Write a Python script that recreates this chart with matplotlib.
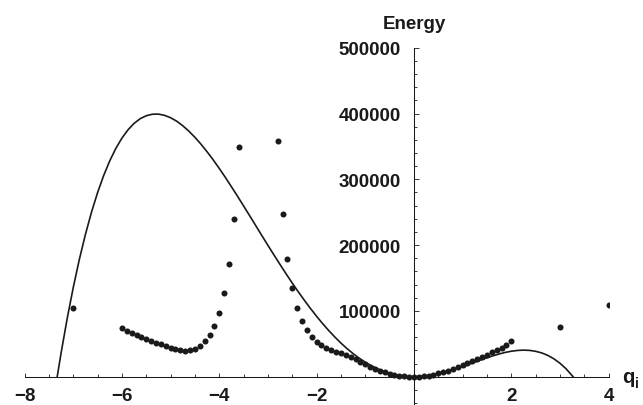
#!/usr/bin/env python3
"""Energy vs q_i: smooth energy curve with sampled points."""

import matplotlib

matplotlib.use("Agg", force=True)
import matplotlib.pyplot as plt
from matplotlib.ticker import FixedLocator

# solid curve (clipped at the q axis)
curve_q = [-7.33, -7.25, -7.125, -7.0, -6.875, -6.75, -6.625, -6.5, -6.375, -6.25,
           -6.125, -6.0, -5.875, -5.75, -5.625, -5.5, -5.375, -5.25, -5.125, -5.0,
           -4.875, -4.75, -4.625, -4.5, -4.375, -4.25, -4.125, -4.0, -3.875, -3.75,
           -3.625, -3.5, -3.375, -3.25, -3.125, -3.0, -2.875, -2.75, -2.625, -2.5,
           -2.375, -2.25, -2.125, -2.0, -1.875, -1.75, -1.625, -1.5, -1.375, -1.25,
           -1.125, -1.0, -0.875, -0.75, -0.625, -0.5, -0.375, -0.25, -0.125, 0.0,
           0.125, 0.25, 0.375, 0.5, 0.625, 0.75, 0.875, 1.0, 1.125, 1.25, 1.375,
           1.5, 1.625, 1.75, 1.875, 2.0, 2.125, 2.25, 2.375, 2.5, 2.625, 2.75,
           2.875, 3.0, 3.125, 3.27]
curve_e = [0, 36100, 88400, 135700, 178300, 216300, 250100, 279900, 305800, 328100,
           347000, 362600, 375200, 385000, 392100, 396600, 398900, 399100, 397200,
           393600, 388300, 381400, 373200, 363800, 353300, 341800, 329600, 316500,
           302900, 288700, 274300, 259500, 244600, 229600, 214500, 199600, 184900,
           170400, 156100, 142300, 128900, 116000, 103600, 91800, 80600, 70100,
           60300, 51100, 42700, 35100, 28200, 22100, 16700, 12200, 8300, 5300,
           2900, 1300, 300, 0, 300, 1200, 2600, 4400, 6700, 9400, 12300, 15400,
           18800, 22100, 25500, 28700, 31800, 34500, 36900, 38700, 39900, 40400,
           40000, 38600, 36200, 32400, 27200, 20500, 12100, 0]

# sampled points, left branch
left_q = [-6.0, -5.9, -5.8, -5.7, -5.6, -5.5, -5.4, -5.3, -5.2, -5.1, -5.0, -4.9,
          -4.8, -4.7, -4.6, -4.5, -4.4, -4.3, -4.2, -4.1, -4.0, -3.9, -3.8, -3.7, -3.6]
left_e = [73500, 69500, 66400, 63400, 60300, 57300, 54700, 51700, 49200, 46700,
          44100, 42100, 40600, 39800, 40100, 42100, 46700, 53800, 63400, 77000,
          97300, 127000, 171700, 240000, 349000]

# sampled points, right branch
right_q = [-2.8, -2.7, -2.6, -2.5, -2.4, -2.3, -2.2, -2.1, -2.0, -1.9, -1.8, -1.7,
           -1.6, -1.5, -1.4, -1.3, -1.2, -1.1, -1.0, -0.9, -0.8, -0.7, -0.6, -0.5,
           -0.4, -0.3, -0.2, -0.1, 0.0, 0.1, 0.2, 0.3, 0.4, 0.5, 0.6, 0.7, 0.8,
           0.9, 1.0, 1.1, 1.2, 1.3, 1.4, 1.5, 1.6, 1.7, 1.8, 1.9, 2.0]
right_e = [357600, 247000, 179000, 134500, 104400, 84700, 70800, 60300, 53300,
           47800, 43600, 40600, 38000, 35600, 33000, 30000, 26400, 22800, 18800,
           15200, 11700, 9000, 6600, 4600, 3000, 1700, 750, 200, 0, 200, 800,
           1800, 3200, 5000, 7100, 9400, 12000, 14800, 17800, 20800, 24000, 27200,
           30400, 33600, 36800, 40200, 44000, 48500, 53800]

# isolated points
iso_q = [-7.0, 3.0, 4.0]
iso_e = [104000, 76000, 109000]

x_major = [-8, -6, -4, -2, 2, 4]
y_major = [100000, 200000, 300000, 400000, 500000]

plt.rcParams["font.family"] = ["Liberation Sans", "DejaVu Sans"]
plt.rcParams["font.weight"] = "bold"

ink = "#1a1a1a"
fig = plt.figure(figsize=(6.43, 4.06), dpi=100)
ax = fig.add_axes([24.6 / 643, 0.0, 584 / 643, (406 - 48.7) / 406])
ax.set_xlim(-8, 4)
ax.set_ylim(-43000, 500000)

ax.plot(curve_q, curve_e, color=ink, lw=1.2)
for qs, es in ((left_q, left_e), (right_q, right_e), (iso_q, iso_e)):
    ax.scatter(qs, es, s=19, color=ink, linewidths=0, zorder=3)

for side in ("top", "right"):
    ax.spines[side].set_visible(False)
ax.spines["left"].set_position(("data", 0))
ax.spines["bottom"].set_position(("data", 0))
ax.spines["left"].set_bounds(-43000, 500000)
for side in ("left", "bottom"):
    ax.spines[side].set_linewidth(0.75)
    ax.spines[side].set_color(ink)

ax.xaxis.set_major_locator(FixedLocator(x_major))
ax.xaxis.set_minor_locator(FixedLocator([v / 2 for v in range(-16, 9) if v % 4 and v]))
ax.yaxis.set_major_locator(FixedLocator(y_major))
ax.yaxis.set_minor_locator(FixedLocator([v for v in range(-40000, 500000, 20000)
                                         if v % 100000]))
ax.set_xticklabels([f"\u2212{-v}" if v < 0 else str(v) for v in x_major])
ax.set_yticklabels([str(v) for v in y_major])

ax.tick_params(axis="x", which="major", direction="in", length=3.2, width=0.6,
               pad=7.5, labelsize=13.5, colors=ink)
ax.tick_params(axis="x", which="minor", direction="in", length=2, width=0.6, colors=ink)
ax.tick_params(axis="y", which="major", direction="in", length=3.6, width=0.6,
               pad=9.5, labelsize=13.5, colors=ink)
ax.tick_params(axis="y", which="minor", direction="in", length=2, width=0.6, colors=ink)

ax.text(0, 529500, "Energy", ha="center", va="baseline", fontsize=13.5,
        fontweight="bold", color=ink, clip_on=False)
# axis label q with subscript i, placed in figure pixels
fig.text(622 / 643, 1 - 383 / 406, "q", ha="left", va="baseline", fontsize=14.5,
         fontweight="bold", color=ink)
fig.text(635 / 643, 1 - 388 / 406, "i", ha="left", va="baseline", fontsize=10,
         fontweight="bold", color=ink)

fig.savefig("out.png", dpi=100)
